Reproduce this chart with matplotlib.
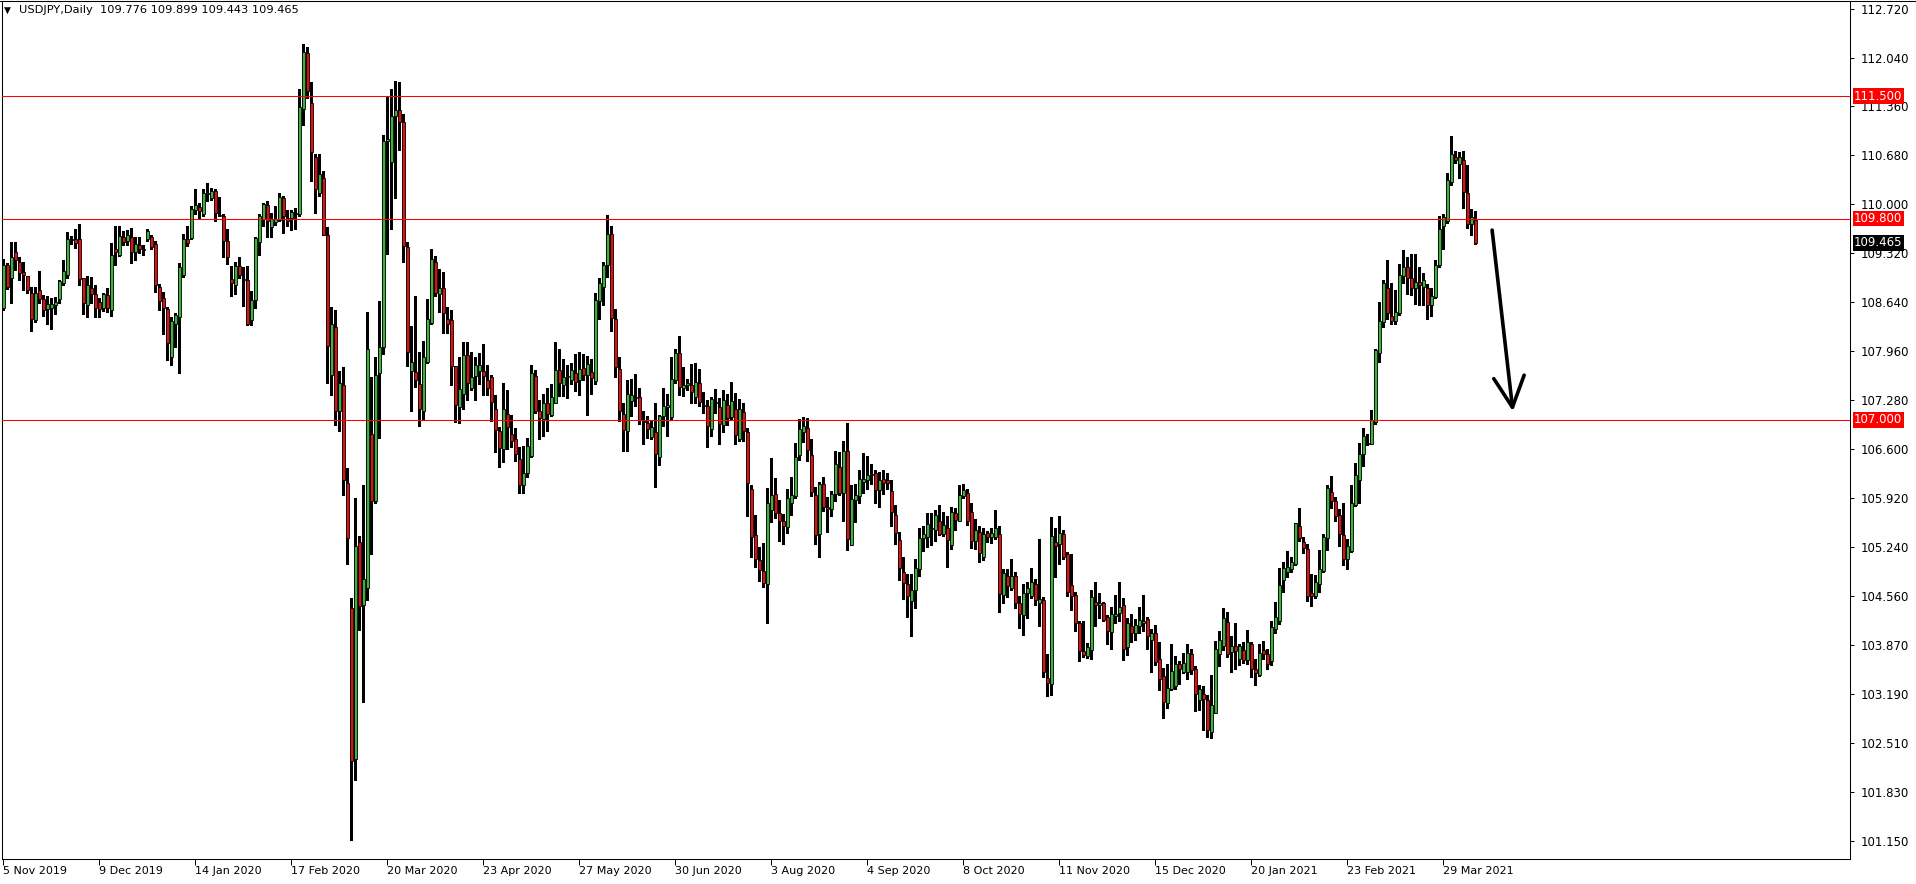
import numpy as np
import matplotlib
matplotlib.use('Agg')
import matplotlib.pyplot as plt
import matplotlib.transforms as mtransforms
from matplotlib.lines import Line2D

# USDJPY daily candles, 5 Nov 2019 .. 8 Apr 2021
OPEN = [
    108.56, 109.16, 108.97, 109.33, 109.19, 109.06, 109.00, 108.77, 108.39, 108.81,
    108.68, 108.54, 108.55, 108.60, 108.68, 108.90, 109.01, 109.50, 109.51, 109.52,
    108.97, 108.60, 108.84, 108.75, 108.64, 108.56, 108.74, 108.53, 109.37, 109.29,
    109.54, 109.49, 109.54, 109.34, 109.43, 109.38, 109.51, 109.54, 109.44, 108.85,
    108.70, 108.54, 107.88, 108.34, 108.43, 109.01, 109.51, 109.53, 109.92, 109.96,
    109.86, 110.14, 110.08, 110.18, 109.85, 109.83, 109.49, 108.96, 108.88, 109.14,
    108.96, 108.94, 108.39, 108.67, 109.47, 109.79, 109.99, 109.68, 109.75, 109.78,
    110.08, 109.81, 109.81, 109.88, 109.86, 111.33, 112.10, 111.41, 110.66, 110.16,
    110.37, 109.57, 107.62, 108.29, 107.12, 107.48, 106.12, 104.38, 102.28, 105.30,
    104.43, 104.66, 106.81, 105.87, 107.65, 108.01, 110.88, 110.58, 111.22, 111.31,
    111.14, 109.41, 107.68, 107.66, 107.50, 107.13, 107.81, 108.35, 109.20, 108.75,
    108.83, 108.41, 108.39, 107.75, 107.18, 107.36, 107.90, 107.44, 107.61, 107.68,
    107.68, 107.55, 107.59, 107.15, 106.85, 106.59, 107.08, 106.81, 106.73, 106.45,
    106.09, 106.26, 106.50, 107.61, 107.13, 107.01, 107.24, 107.07, 107.24, 107.69,
    107.48, 107.60, 107.55, 107.65, 107.55, 107.72, 107.62, 107.67, 107.54, 108.66,
    108.85, 109.15, 109.58, 108.41, 107.71, 107.08, 106.84, 107.26, 107.31, 107.32,
    106.98, 106.95, 106.76, 106.83, 106.49, 107.05, 107.18, 107.04, 107.56, 107.93,
    107.44, 107.49, 107.48, 107.32, 107.51, 107.21, 107.20, 106.87, 107.25, 107.18,
    106.93, 107.21, 107.04, 107.15, 106.73, 107.11, 106.83, 106.04, 105.40, 105.05,
    104.90, 104.72, 105.74, 105.97, 105.71, 105.60, 105.51, 105.85, 105.94, 106.51,
    106.83, 106.89, 106.51, 105.96, 105.41, 106.11, 105.79, 105.76, 105.97, 106.35,
    105.98, 106.57, 105.26, 105.88, 105.94, 106.14, 106.16, 106.23, 106.26, 106.02,
    106.18, 106.16, 106.01, 105.68, 105.33, 104.89, 104.72, 104.48, 104.63, 104.93,
    105.36, 105.37, 105.48, 105.47, 105.59, 105.41, 105.50, 105.26, 105.71, 105.59,
    105.94, 105.98, 105.72, 105.31, 105.44, 105.09, 105.43, 105.37, 105.37, 105.41,
    104.56, 104.83, 104.66, 104.83, 104.45, 104.28, 104.59, 104.55, 104.72, 104.45,
    104.49, 103.41, 103.32, 105.30, 105.28, 105.41, 105.13, 104.70, 104.57, 104.18,
    103.79, 103.71, 103.80, 104.47, 104.42, 104.46, 104.26, 104.05, 104.27, 104.31,
    104.42, 103.84, 104.13, 104.03, 104.14, 104.17, 104.23, 103.94, 104.04, 103.67,
    103.44, 103.06, 103.26, 103.30, 103.61, 103.50, 103.50, 103.75, 103.54, 103.10,
    103.19, 103.11, 102.66, 102.92, 103.74, 103.85, 104.19, 103.77, 103.85, 103.67,
    103.80, 103.66, 103.88, 103.53, 103.45, 103.80, 103.74, 103.65, 104.09, 104.21,
    104.77, 104.88, 104.92, 104.99, 105.53, 105.30, 105.20, 104.59, 104.55, 104.72,
    104.90, 105.36, 106.00, 105.87, 105.68, 105.40, 105.06, 105.17, 105.82, 106.16,
    106.52, 106.68, 106.67, 106.97, 107.93, 108.36, 108.84, 108.45, 108.37, 108.49,
    109.00, 109.13, 108.98, 108.84, 108.92, 108.85, 108.84, 108.60, 108.71, 109.16,
    109.70, 109.77, 110.31, 110.66, 110.56, 110.61, 110.16, 109.73, 109.776,
]
HIGH = [
    109.24, 109.18, 109.48, 109.47, 109.26, 109.20, 109.00, 108.85, 108.85, 109.07,
    108.74, 108.72, 108.69, 108.71, 108.95, 109.22, 109.61, 109.56, 109.66, 109.72,
    108.98, 109.00, 108.99, 108.87, 108.69, 108.76, 108.84, 109.46, 109.70, 109.70,
    109.63, 109.64, 109.67, 109.55, 109.55, 109.43, 109.66, 109.57, 109.49, 108.89,
    108.78, 108.57, 108.43, 108.49, 109.18, 109.59, 109.69, 109.97, 110.21, 110.01,
    110.21, 110.29, 110.23, 110.21, 110.10, 109.86, 109.65, 109.14, 109.19, 109.26,
    109.12, 109.14, 108.79, 109.55, 109.86, 110.02, 110.04, 109.88, 109.97, 110.15,
    110.11, 109.92, 109.92, 109.95, 111.60, 112.23, 112.18, 111.70, 110.70, 110.70,
    110.46, 109.68, 108.57, 108.53, 107.68, 107.74, 106.33, 104.52, 105.92, 105.39,
    106.10, 108.50, 107.59, 107.87, 108.66, 110.96, 111.50, 111.60, 111.71, 111.70,
    111.25, 109.48, 108.30, 108.72, 107.94, 108.10, 108.68, 109.37, 109.28, 109.10,
    109.06, 108.57, 108.53, 107.75, 107.87, 108.08, 108.08, 107.94, 107.88, 107.93,
    108.05, 107.76, 107.62, 107.34, 106.90, 107.51, 107.41, 107.07, 106.89, 106.63,
    106.64, 106.75, 107.76, 107.70, 107.28, 107.36, 107.44, 107.50, 108.08, 107.99,
    107.85, 107.77, 107.79, 107.92, 107.94, 107.91, 107.89, 107.85, 108.76, 108.98,
    109.20, 109.85, 109.69, 108.54, 107.87, 107.24, 107.56, 107.57, 107.64, 107.44,
    107.13, 107.06, 107.00, 107.23, 107.07, 107.45, 107.36, 107.88, 107.99, 108.17,
    107.73, 107.57, 107.78, 107.79, 107.71, 107.39, 107.27, 107.32, 107.43, 107.30,
    107.41, 107.36, 107.53, 107.37, 107.29, 107.23, 106.89, 106.10, 105.68, 105.23,
    105.29, 106.05, 106.47, 106.19, 105.88, 105.69, 106.04, 106.20, 106.68, 107.01,
    107.04, 107.03, 106.73, 106.07, 106.14, 106.21, 105.93, 106.01, 106.57, 106.56,
    106.70, 106.95, 106.10, 106.11, 106.30, 106.54, 106.50, 106.39, 106.31, 106.28,
    106.31, 106.26, 106.17, 105.81, 105.44, 105.09, 104.86, 104.86, 105.07, 105.49,
    105.53, 105.70, 105.70, 105.74, 105.81, 105.72, 105.67, 105.79, 105.78, 106.10,
    106.11, 106.04, 105.85, 105.62, 105.52, 105.49, 105.46, 105.50, 105.75, 105.53,
    104.93, 104.93, 105.06, 104.89, 104.55, 104.72, 104.75, 104.94, 104.79, 105.35,
    104.54, 103.75, 105.65, 105.49, 105.67, 105.47, 105.16, 105.13, 104.60, 104.21,
    104.21, 103.90, 104.64, 104.75, 104.59, 104.47, 104.28, 104.40, 104.57, 104.75,
    104.52, 104.24, 104.30, 104.23, 104.40, 104.56, 104.26, 104.09, 104.15, 103.91,
    103.55, 103.60, 103.89, 103.72, 103.65, 103.76, 103.89, 103.82, 103.58, 103.31,
    103.30, 103.18, 103.45, 103.92, 104.07, 104.39, 104.33, 104.00, 104.17, 103.89,
    103.91, 104.08, 103.91, 103.67, 103.89, 103.93, 103.81, 104.21, 104.47, 104.94,
    105.03, 105.17, 105.10, 105.57, 105.78, 105.37, 105.27, 104.85, 104.84, 105.19,
    105.42, 106.09, 106.22, 105.93, 105.76, 105.84, 105.35, 106.10, 106.40, 106.68,
    106.89, 106.81, 107.14, 107.99, 108.64, 108.94, 109.23, 108.91, 108.81, 109.17,
    109.36, 109.27, 109.31, 109.31, 109.12, 109.04, 108.89, 108.84, 109.23, 109.83,
    109.86, 110.43, 110.95, 110.74, 110.73, 110.74, 110.55, 109.93, 109.899,
]
LOW = [
    108.53, 108.82, 108.63, 109.08, 108.95, 108.81, 108.76, 108.23, 108.36, 108.63,
    108.44, 108.34, 108.27, 108.47, 108.62, 108.87, 108.97, 109.45, 109.39, 108.87,
    108.47, 108.43, 108.62, 108.43, 108.43, 108.52, 108.50, 108.45, 109.15, 109.28,
    109.43, 109.43, 109.18, 109.22, 109.32, 109.29, 109.49, 109.38, 108.78, 108.53,
    108.20, 107.83, 107.76, 108.02, 107.65, 108.99, 109.42, 109.52, 109.86, 109.79,
    109.84, 110.04, 110.06, 109.77, 109.83, 109.26, 109.17, 108.73, 108.75, 108.97,
    108.59, 108.32, 108.32, 108.55, 109.30, 109.70, 109.54, 109.55, 109.71, 109.76,
    109.60, 109.70, 109.64, 109.65, 109.84, 111.10, 111.47, 110.32, 109.88, 110.11,
    109.57, 107.51, 107.35, 106.93, 106.84, 105.95, 104.99, 101.16, 101.99, 104.08,
    103.08, 104.50, 105.13, 105.85, 106.75, 107.92, 109.31, 109.66, 110.08, 110.75,
    109.20, 107.75, 107.12, 107.46, 106.92, 107.01, 107.79, 108.34, 108.72, 108.50,
    108.21, 108.21, 107.49, 106.97, 106.95, 107.15, 107.28, 107.41, 107.28, 107.50,
    107.34, 107.35, 106.99, 106.55, 106.34, 106.41, 106.59, 106.62, 106.43, 105.99,
    105.99, 106.21, 106.49, 107.10, 106.73, 106.78, 106.84, 107.06, 107.23, 107.33,
    107.33, 107.31, 107.50, 107.40, 107.35, 107.56, 107.07, 107.36, 107.50, 108.41,
    108.60, 108.99, 108.23, 107.60, 106.98, 106.57, 106.57, 107.05, 107.20, 106.94,
    106.66, 106.75, 106.74, 106.07, 106.37, 106.92, 106.78, 107.00, 107.52, 107.35,
    107.33, 107.42, 107.24, 107.23, 107.19, 107.09, 106.63, 106.77, 107.10, 106.67,
    106.83, 106.93, 107.00, 106.67, 106.70, 106.70, 105.67, 105.10, 104.95, 104.76,
    104.67, 104.18, 105.58, 105.64, 105.31, 105.28, 105.43, 105.68, 105.91, 106.44,
    106.69, 106.43, 105.94, 105.27, 105.09, 105.73, 105.44, 105.67, 105.87, 105.95,
    105.59, 105.19, 105.26, 105.58, 105.84, 105.99, 106.04, 106.11, 105.85, 105.79,
    105.97, 106.04, 105.53, 105.28, 104.78, 104.51, 104.26, 103.99, 104.39, 104.83,
    105.18, 105.23, 105.26, 105.32, 105.40, 105.38, 104.96, 105.21, 105.47, 105.59,
    105.91, 105.54, 105.22, 105.20, 105.02, 105.05, 105.30, 105.29, 105.34, 104.33,
    104.46, 104.53, 104.63, 104.38, 104.11, 104.01, 104.25, 104.52, 104.42, 104.13,
    103.43, 103.16, 103.17, 104.81, 104.99, 105.07, 104.55, 104.35, 104.06, 103.64,
    103.70, 103.69, 103.67, 104.13, 104.24, 104.20, 103.89, 103.82, 104.17, 104.21,
    103.66, 103.73, 103.91, 103.94, 104.03, 104.06, 103.81, 103.49, 103.59, 103.24,
    102.85, 102.99, 103.24, 103.26, 103.33, 103.48, 103.39, 103.47, 102.95, 102.97,
    102.69, 102.59, 102.57, 102.92, 103.58, 103.80, 103.70, 103.50, 103.54, 103.59,
    103.62, 103.60, 103.43, 103.31, 103.44, 103.67, 103.54, 103.59, 104.04, 104.16,
    104.60, 104.81, 104.89, 104.98, 105.32, 105.15, 104.48, 104.41, 104.52, 104.61,
    104.88, 105.19, 105.78, 105.59, 105.25, 104.98, 104.92, 105.16, 105.80, 105.84,
    106.36, 106.65, 106.66, 106.94, 107.81, 108.29, 108.41, 108.33, 108.33, 108.46,
    108.91, 108.75, 108.74, 108.61, 108.60, 108.60, 108.40, 108.44, 108.70, 109.13,
    109.37, 109.74, 110.27, 110.57, 110.37, 109.95, 109.67, 109.57, 109.443,
]
CLOSE = [
    109.16, 108.85, 109.27, 109.23, 109.04, 109.02, 108.80, 108.40, 108.76, 108.68,
    108.53, 108.61, 108.61, 108.64, 108.93, 109.07, 109.52, 109.51, 109.46, 108.96,
    108.63, 108.87, 108.75, 108.55, 108.54, 108.75, 108.55, 109.30, 109.34, 109.56,
    109.48, 109.57, 109.34, 109.44, 109.38, 109.36, 109.63, 109.40, 108.87, 108.66,
    108.55, 108.07, 108.37, 108.46, 109.12, 109.52, 109.46, 109.94, 109.99, 109.90,
    110.16, 110.15, 110.18, 109.88, 109.84, 109.49, 109.26, 108.90, 109.14, 109.02,
    108.94, 108.34, 108.67, 109.53, 109.84, 110.00, 109.77, 109.79, 109.80, 110.10,
    109.83, 109.76, 109.89, 109.87, 111.35, 112.12, 111.58, 110.73, 110.21, 110.42,
    109.57, 108.03, 108.33, 107.13, 107.52, 106.17, 105.36, 102.26, 105.24, 104.41,
    104.79, 107.98, 105.87, 107.63, 108.01, 110.88, 110.90, 111.22, 111.31, 111.14,
    109.42, 107.94, 107.81, 107.55, 107.15, 107.87, 108.40, 109.24, 108.77, 108.83,
    108.48, 108.34, 107.75, 107.21, 107.43, 107.90, 107.52, 107.60, 107.76, 107.76,
    107.61, 107.44, 107.25, 106.86, 106.61, 107.15, 106.90, 106.70, 106.52, 106.10,
    106.26, 106.64, 107.65, 107.13, 107.03, 107.23, 107.08, 107.32, 107.69, 107.51,
    107.60, 107.61, 107.69, 107.53, 107.71, 107.62, 107.78, 107.58, 108.67, 108.90,
    109.15, 109.58, 108.42, 107.74, 107.12, 106.86, 107.36, 107.34, 107.32, 107.00,
    106.97, 106.87, 106.90, 106.52, 107.06, 107.20, 107.21, 107.57, 107.93, 107.46,
    107.49, 107.52, 107.39, 107.53, 107.25, 107.19, 106.91, 107.29, 107.23, 106.94,
    107.28, 107.03, 107.26, 106.79, 107.15, 106.84, 106.12, 105.37, 105.07, 104.91,
    104.73, 105.85, 105.95, 105.71, 105.59, 105.53, 105.92, 105.96, 106.49, 106.88,
    106.92, 106.58, 106.00, 105.40, 106.11, 105.79, 105.76, 105.97, 106.39, 105.98,
    106.57, 105.34, 105.90, 105.95, 106.18, 106.18, 106.23, 106.25, 106.02, 106.17,
    106.12, 106.12, 105.72, 105.43, 104.94, 104.73, 104.55, 104.64, 104.94, 105.36,
    105.41, 105.55, 105.49, 105.68, 105.42, 105.54, 105.33, 105.72, 105.61, 105.95,
    106.03, 105.59, 105.31, 105.47, 105.15, 105.42, 105.37, 105.43, 105.50, 104.58,
    104.87, 104.69, 104.83, 104.45, 104.30, 104.59, 104.66, 104.75, 104.49, 104.51,
    103.50, 103.34, 105.39, 105.24, 105.43, 105.10, 104.61, 104.55, 104.18, 103.78,
    103.73, 103.84, 104.54, 104.42, 104.46, 104.22, 104.06, 104.30, 104.30, 104.40,
    103.82, 104.18, 104.03, 104.15, 104.22, 104.21, 103.99, 104.03, 103.63, 103.40,
    103.07, 103.27, 103.51, 103.61, 103.53, 103.62, 103.76, 103.52, 103.19, 103.26,
    103.12, 102.69, 103.04, 103.82, 103.94, 104.24, 103.74, 103.86, 103.78, 103.85,
    103.66, 103.91, 103.53, 103.48, 103.76, 103.75, 103.61, 104.12, 104.26, 104.71,
    104.94, 104.95, 105.03, 105.56, 105.36, 105.22, 104.55, 104.55, 104.74, 104.92,
    105.37, 106.05, 105.87, 105.66, 105.41, 105.07, 105.24, 105.84, 106.24, 106.52,
    106.77, 106.66, 107.00, 107.97, 108.38, 108.91, 108.48, 108.38, 108.50, 109.02,
    109.13, 108.98, 108.83, 108.92, 108.87, 108.95, 108.60, 108.72, 109.16, 109.66,
    109.82, 110.34, 110.70, 110.61, 110.65, 110.17, 109.73, 109.82, 109.465,
]

DATE_LABELS = ['5 Nov 2019', '9 Dec 2019', '14 Jan 2020', '17 Feb 2020', '20 Mar 2020',
               '23 Apr 2020', '27 May 2020', '30 Jun 2020', '3 Aug 2020', '4 Sep 2020',
               '8 Oct 2020', '11 Nov 2020', '15 Dec 2020', '20 Jan 2021', '23 Feb 2021',
               '29 Mar 2021']
DATE_STEP = 24  # bars between date labels

PRICE_LABELS = ['101.150', '101.830', '102.510', '103.190', '103.870', '104.560',
                '105.240', '105.920', '106.600', '107.280', '107.960', '108.640',
                '109.320', '110.000', '110.680', '111.360', '112.040', '112.720']

LEVELS = [111.5, 109.8, 107.0]
LEVEL_LABELS = ['111.500', '109.800', '107.000']
LAST_PRICE = 109.465
HEADER = 'USDJPY,Daily  109.776 109.899 109.443 109.465'

# arrow drawn on the chart (bar index, price)
ARROW_FROM = (372.2, 109.64)
ARROW_TO = (377.4, 107.12)

W, H = 1916, 884
BULL = '#3cb43c'
BEAR = '#e01010'

o = np.array(OPEN)
h = np.array(HIGH)
l = np.array(LOW)
c = np.array(CLOSE)
x = np.arange(len(o))

fig = plt.figure(figsize=(W / 100, H / 100), dpi=100)
fig.patch.set_facecolor('white')
ax = fig.add_axes([2 / W, 25 / H, 1848 / W, 858 / H])

# wicks then bodies
ax.vlines(x, l, h, color='black', linewidth=0.75, zorder=2, antialiased=False)
up = c >= o
body_bottom = np.minimum(o, c)
body_height = np.abs(c - o)
ax.bar(x[up], body_height[up], bottom=body_bottom[up], width=0.62,
       color=BULL, edgecolor='black', linewidth=0.6, zorder=3)
ax.bar(x[~up], body_height[~up], bottom=body_bottom[~up], width=0.62,
       color=BEAR, edgecolor='black', linewidth=0.6, zorder=3)

# support / resistance lines
for lv in LEVELS:
    ax.axhline(lv, color='#ff0000', linewidth=0.75, zorder=4)

ax.annotate('', xy=ARROW_TO, xytext=ARROW_FROM,
            arrowprops=dict(arrowstyle='->,head_length=2.2,head_width=1.1',
                            color='black', lw=2.6, shrinkA=0, shrinkB=0),
            zorder=5)

ax.set_xlim(-0.325, -0.325 + 1848 / 4)
ax.set_ylim(100.893, 112.826)

ax.yaxis.tick_right()
ax.set_yticks(np.linspace(101.15, 112.72, len(PRICE_LABELS)))
ax.set_yticklabels(PRICE_LABELS)
ax.tick_params(axis='y', direction='out', length=3, width=0.75, pad=5,
               labelsize=8.5, colors='black')

ax.set_xticks(np.arange(len(DATE_LABELS)) * DATE_STEP)
ax.set_xticklabels(DATE_LABELS, ha='left')
ax.tick_params(axis='x', direction='out', length=4, width=0.75, pad=1,
               labelsize=8)

for sp in ax.spines.values():
    sp.set_linewidth(0.75)
    sp.set_color('black')

# price tags on the right scale
trans = mtransforms.blended_transform_factory(ax.transAxes, ax.transData)
for lv, lab in zip(LEVELS, LEVEL_LABELS):
    ax.text(1.0 + 4 / 1848, lv, lab, transform=trans, ha='left', va='center',
            color='white', fontsize=8.5, zorder=10,
            bbox=dict(boxstyle='square,pad=0.12', fc='#ff0000', ec='none'))
ax.text(1.0 + 4 / 1848, LAST_PRICE, f'{LAST_PRICE:.3f}', transform=trans,
        ha='left', va='center', color='white', fontsize=8.5, zorder=10,
        bbox=dict(boxstyle='square,pad=0.12', fc='black', ec='none'))

# window frame: top and right edges
fig.add_artist(Line2D([0, 1], [1 - 0.5 / H, 1 - 0.5 / H], color='black',
                      linewidth=0.75, transform=fig.transFigure))
fig.add_artist(Line2D([1 - 0.5 / W, 1 - 0.5 / W], [0, 1], color='black',
                      linewidth=0.75, transform=fig.transFigure))

# header in the top-left corner
fig.text(4 / W, 1 - 10 / H, '\u25bc', fontsize=6.5, va='center', ha='left')
fig.text(19 / W, 1 - 10 / H, HEADER, fontsize=8.2, va='center', ha='left')

fig.savefig('out.png', dpi=100, facecolor='white')
